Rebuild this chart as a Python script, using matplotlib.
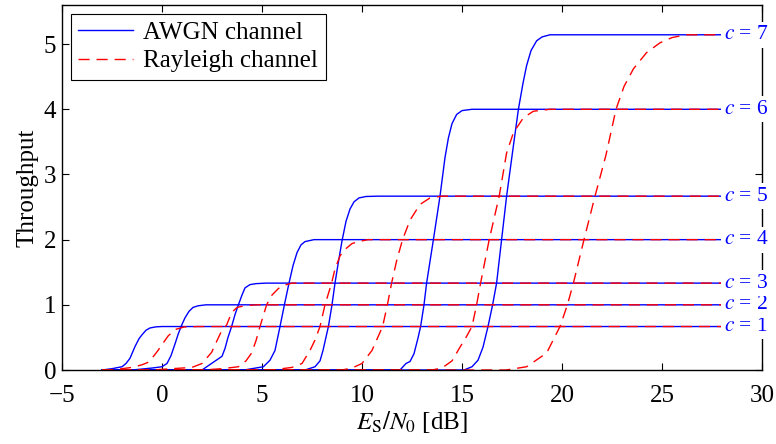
import matplotlib
matplotlib.use("Agg")
import matplotlib.pyplot as plt

# throughput curves, one per code index c = 1..7
CODE_INDEX = [1, 2, 3, 4, 5, 6, 7]

AWGN_SNR = [
    [-3, -2.5, -2.0, -1.8, -1.6, -1.35, -1.15, -1.0, -0.8, -0.6, -0.3, 0.0, 28],
    [-3, -1.5, -0.5, 0.0, 0.25, 0.45, 0.65, 0.82, 1.0, 1.15, 1.35, 1.55, 1.8, 2.2, 28],
    [-3, 2.0, 3.0, 3.15, 3.3, 3.48, 3.65, 3.82, 4.0, 4.15, 4.4, 4.7, 5.2, 28],
    [-3, 4.1, 5.07, 5.4, 5.65, 5.9, 6.12, 6.35, 6.55, 6.75, 6.95, 7.15, 7.6, 28],
    [-3, 7.15, 7.65, 7.9, 8.05, 8.32, 8.5, 8.65, 8.8, 9.0, 9.2, 9.4, 9.6, 9.85, 10.2, 10.8, 28],
    [-3, 11.9, 12.2, 12.4, 12.6, 12.8, 12.93, 13.1, 13.23, 13.57, 13.9, 14.15, 14.32,
     14.5, 14.73, 15.0, 15.5, 28],
    [-3, 15.1, 15.5, 15.8, 16.05, 16.3, 16.53, 16.73, 16.98, 17.23, 17.57, 17.82,
     18.05, 18.23, 18.45, 18.73, 19.0, 19.4, 28],
]
AWGN_THR = [
    [0, 0.02, 0.05, 0.1, 0.18, 0.36, 0.48, 0.54, 0.61, 0.645, 0.662, 0.667, 0.667],
    [0, 0.0, 0.03, 0.05, 0.1, 0.22, 0.4, 0.56, 0.7, 0.8, 0.9, 0.96, 0.985, 1.0, 1.0],
    [0, 0.0, 0.21, 0.33, 0.5, 0.667, 0.85, 1.0, 1.15, 1.26, 1.31, 1.325, 1.333, 1.333],
    [0, 0.0, 0.05, 0.15, 0.3, 0.667, 1.0, 1.333, 1.6, 1.8, 1.92, 1.97, 2.0, 2.0],
    [0, 0.0, 0.05, 0.14, 0.3, 0.667, 1.0, 1.333, 1.62, 1.98, 2.28, 2.47, 2.58, 2.64,
     2.662, 2.667, 2.667],
    [0, 0.0, 0.1, 0.13, 0.25, 0.49, 0.667, 1.0, 1.333, 2.0, 2.667, 3.26, 3.56,
     3.78, 3.92, 3.98, 4.0, 4.0],
    [0, 0.0, 0.05, 0.15, 0.35, 0.667, 1.0, 1.333, 2.0, 2.667, 3.44, 4.0,
     4.4, 4.67, 4.9, 5.05, 5.11, 5.143, 5.143],
]

RAYLEIGH_SNR = [
    [-3, -2.5, -2.0, -1.5, -1.0, -0.68, -0.4, -0.2, -0.02, 0.3, 0.65, 1.1, 1.8, 28],
    [-3, -0.5, 0.5, 1.5, 2.0, 2.48, 2.75, 2.98, 3.23, 3.48, 3.75, 4.2, 4.8, 28],
    [-3, 2.0, 3.0, 3.82, 4.2, 4.48, 4.7, 4.9, 5.23, 5.5, 5.82, 6.1, 6.5, 28],
    [-3, 5.5, 6.5, 7.0, 7.4, 7.65, 7.9, 8.15, 8.48, 8.65, 8.9, 9.15, 9.5, 9.82, 10.3, 28],
    [-3, 9.0, 9.5, 10.0, 10.5, 11.03, 11.27, 11.48, 11.75, 12.03, 12.4, 12.9, 13.4, 14.0, 28],
    [-3, 13.5, 14.0, 14.5, 14.9, 15.2, 15.5, 15.73, 15.93, 16.36, 16.86, 17.23,
     17.57, 18.07, 18.57, 19.4, 28],
    [-3, 17.2, 18.23, 19.23, 19.9, 20.27, 20.57, 21.1, 21.65, 22.2, 22.7, 23.1,
     23.57, 24.23, 24.9, 25.5, 26.2, 28],
]
RAYLEIGH_THR = [
    [0, 0.005, 0.02, 0.04, 0.08, 0.12, 0.22, 0.3, 0.38, 0.52, 0.62, 0.66, 0.667, 0.667],
    [0, 0.0, 0.02, 0.04, 0.1, 0.27, 0.45, 0.6, 0.69, 0.88, 0.96, 0.99, 1.0, 1.0],
    [0, 0.0, 0.02, 0.05, 0.14, 0.26, 0.45, 0.667, 1.0, 1.15, 1.25, 1.3, 1.333, 1.333],
    [0, 0.0, 0.04, 0.1, 0.3, 0.46, 0.667, 1.0, 1.333, 1.55, 1.75, 1.85, 1.94, 1.97, 2.0, 2.0],
    [0, 0.0, 0.03, 0.1, 0.3, 0.667, 1.0, 1.333, 1.7, 2.0, 2.3, 2.54, 2.64, 2.667, 2.667],
    [0, 0.0, 0.03, 0.14, 0.35, 0.5, 0.667, 1.0, 1.333, 2.0, 2.667, 3.33,
     3.64, 3.87, 3.97, 4.0, 4.0],
    [0, 0.0, 0.05, 0.26, 0.667, 1.0, 1.333, 2.0, 2.667, 3.3, 4.0, 4.35,
     4.62, 4.87, 5.02, 5.1, 5.143, 5.143],
]

X_TICKS = [-5, 0, 5, 10, 15, 20, 25, 30]
Y_TICKS = [0, 1, 2, 3, 4, 5]

plt.rcParams['font.family'] = ['Liberation Serif', 'DejaVu Serif']
plt.rcParams['mathtext.fontset'] = 'stix'
plt.rcParams['axes.unicode_minus'] = True

fig = plt.figure(figsize=(7.76, 4.44), dpi=100)
ax = fig.add_axes([62 / 776, 1 - 370 / 444, 700 / 776, 365 / 444])

awgn_lines = []
for snr, thr in zip(AWGN_SNR, AWGN_THR):
    ln, = ax.plot(snr, thr, color=(0, 0, 1), lw=1.0)
    awgn_lines.append(ln)

ray_lines = []
for snr, thr in zip(RAYLEIGH_SNR, RAYLEIGH_THR):
    ln, = ax.plot(snr, thr, color=(1, 0, 0), lw=1.0, dashes=(8, 5))
    ray_lines.append(ln)

# c = k tags at the right end of each saturated curve
for c, snr, thr in zip(CODE_INDEX, AWGN_SNR, AWGN_THR):
    ax.text(snr[-1] + 0.1, thr[-1], r'$c$ = %d' % c, color=(0, 0, 1), fontsize=15.5,
            ha='left', va='center',
            bbox=dict(facecolor='white', edgecolor='none', pad=2.5), zorder=5)

ax.set_xlim(-5, 30)
ax.set_ylim(0, 5.6)
ax.set_xticks(X_TICKS)
ax.set_yticks(Y_TICKS)
ax.tick_params(direction='in', length=5, width=0.8, top=True, right=True,
               labelsize=18)
ax.tick_params(axis='x', pad=11)
ax.tick_params(axis='y', pad=4)
for sp in ax.spines.values():
    sp.set_linewidth(1.0)

ax.set_xlabel(r'$E_\mathrm{S}/N_0$ [dB]', fontsize=18, labelpad=1)
ax.set_ylabel('Throughput', fontsize=18, labelpad=4)

leg = ax.legend([awgn_lines[0], ray_lines[0]], ['AWGN channel', 'Rayleigh channel'],
                loc='upper left', fontsize=18, fancybox=False, framealpha=1,
                edgecolor='black', borderpad=0.3, labelspacing=0.25,
                handlelength=2.2, handletextpad=0.4, borderaxespad=0.35)
leg.get_frame().set_linewidth(0.8)

fig.savefig('out.png', dpi=100)
